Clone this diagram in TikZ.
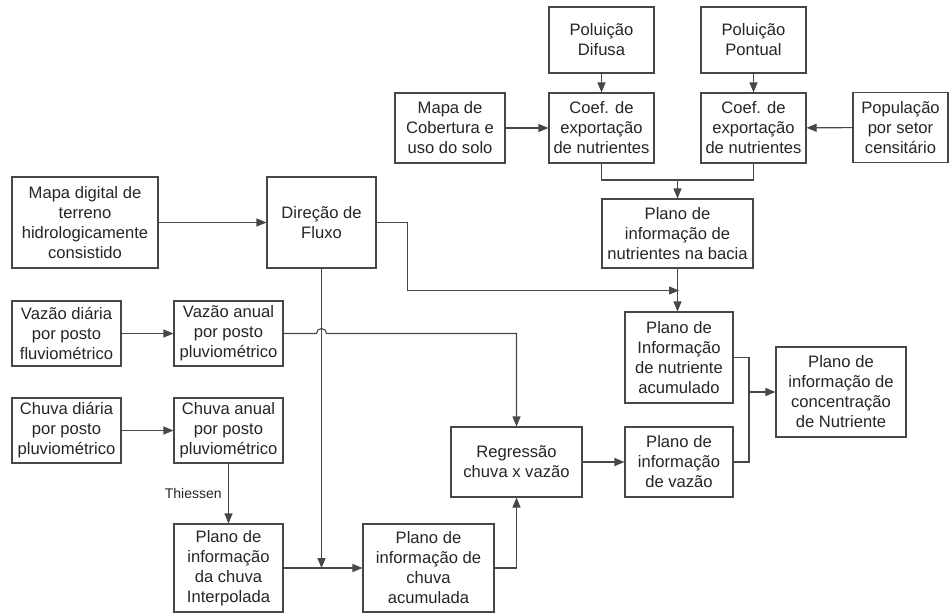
\documentclass[tikz,border=0pt]{standalone}
\usepackage{fontspec}
\setmainfont{Liberation Sans}
\usetikzlibrary{arrows.meta}
\begin{document}
\begin{tikzpicture}[x=1pt,y=-1pt,
  box/.style={draw=black!72, line width=1.1pt, fill=white, align=center, inner sep=1pt,
    text=black!85, font=\fontsize{16.6}{20}\selectfont},
  conn/.style={draw=black!72, line width=1.1pt},
  arr/.style={conn, -{Triangle[length=10pt,width=8pt]}}]
\useasboundingbox (0,0) rectangle (951,613);
% top part
\node[box, minimum width=105pt, minimum height=66pt] (difusa) at (601.5,40) {Poluição\\Difusa};
\node[box, minimum width=105pt, minimum height=66pt] (pontual) at (753.5,40) {Poluição\\Pontual};
\node[box, minimum width=110pt, minimum height=70pt] (mapacob) at (450,128) {Mapa de\\Cobertura e\\uso do solo};
\node[box, minimum width=105pt, minimum height=70pt] (coef1) at (601.5,128) {Coef. de\\exportação\\de nutrientes};
\node[box, minimum width=105pt, minimum height=70pt] (coef2) at (753.5,128) {Coef. de\\exportação\\de nutrientes};
\node[box, minimum width=95pt, minimum height=70pt] (pop) at (900.5,127.5) {População\\por setor\\censitário};
\node[box, minimum width=151pt, minimum height=69pt] (bacia) at (677.5,233.5) {Plano de\\informação de\\nutrientes na bacia};
% left part
\node[box, minimum width=146pt, minimum height=91pt] (mapadig) at (85,222.5) {Mapa digital de\\terreno\\hidrologicamente\\consistido};
\node[box, minimum width=109pt, minimum height=91pt] (direcao) at (321.5,222.5) {Direção de\\Fluxo};
\node[box, minimum width=109pt, minimum height=65pt] (vazdia) at (66.5,333.5) {Vazão diária\\por posto\\fluviométrico};
\node[box, minimum width=109pt, minimum height=65pt] (vazanual) at (228.5,333.5) {Vazão anual\\por posto\\pluviométrico};
\node[box, minimum width=109pt, minimum height=65pt] (chudia) at (66.5,430.5) {Chuva diária\\por posto\\pluviométrico};
\node[box, minimum width=109pt, minimum height=65pt] (chuanual) at (228.5,430.5) {Chuva anual\\por posto\\pluviométrico};
\node[box, minimum width=109pt, minimum height=88pt] (interp) at (228.5,568) {Plano de\\informação\\da chuva\\Interpolada};
\node[box, minimum width=131pt, minimum height=88pt] (chuacum) at (428.5,568) {Plano de\\informação de\\chuva\\acumulada};
% right part
\node[box, minimum width=131pt, minimum height=70pt] (regressao) at (516.5,462) {Regressão\\chuva x vazão};
\node[box, minimum width=108pt, minimum height=91pt] (placum) at (679,357.5) {Plano de\\Informação\\de nutriente\\acumulado};
\node[box, minimum width=108pt, minimum height=70pt] (plvazao) at (679,462) {Plano de\\informação\\de vazão};
\node[box, minimum width=130pt, minimum height=90pt] (concent) at (841,392) {Plano de\\informação de\\concentração\\de Nutriente};
% junction coordinates
\coordinate (jtop) at (677.5,180);
\coordinate (jdir) at (679,290.5);
\coordinate (jchu) at (321.5,568);
\coordinate (jcon) at (749,392);
% connectors top
\draw[arr] (difusa) -- (coef1);
\draw[arr] (pontual) -- (coef2);
\draw[arr] (mapacob) -- (coef1);
\draw[arr] (pop) -- (coef2);
\draw[conn] (coef1.south) |- (jtop) -| (coef2.south);
\draw[arr] (jtop) -- (bacia.north);
\draw[arr] (bacia.south) -- (placum.north -| bacia.south);
% left connectors
\draw[arr] (mapadig) -- (direcao);
\draw[arr] (direcao.east) -- (407.5,222.5) |- (jdir);
\draw[arr] (vazdia) -- (vazanual);
\draw[arr] (vazanual.east) -- (316.5,333.5) arc[start angle=180,end angle=0,radius=5pt] -- (516.5,333.5) -- (regressao.north);
\draw[arr] (chudia) -- (chuanual);
\draw[arr] (chuanual) -- node[left=3pt, font=\fontsize{14}{16}\selectfont, text=black!85] {Thiessen} (interp);
\draw[arr] (direcao.south) -- (jchu);
\draw[arr] (interp) -- (chuacum);
\draw[arr] (chuacum.east) -| (regressao.south);
% right connectors
\draw[arr] (regressao) -- (plvazao);
\draw[conn] (placum.east) -| (jcon) |- (plvazao.east);
\draw[arr] (jcon) -- (concent.west);
\end{tikzpicture}
\end{document}
